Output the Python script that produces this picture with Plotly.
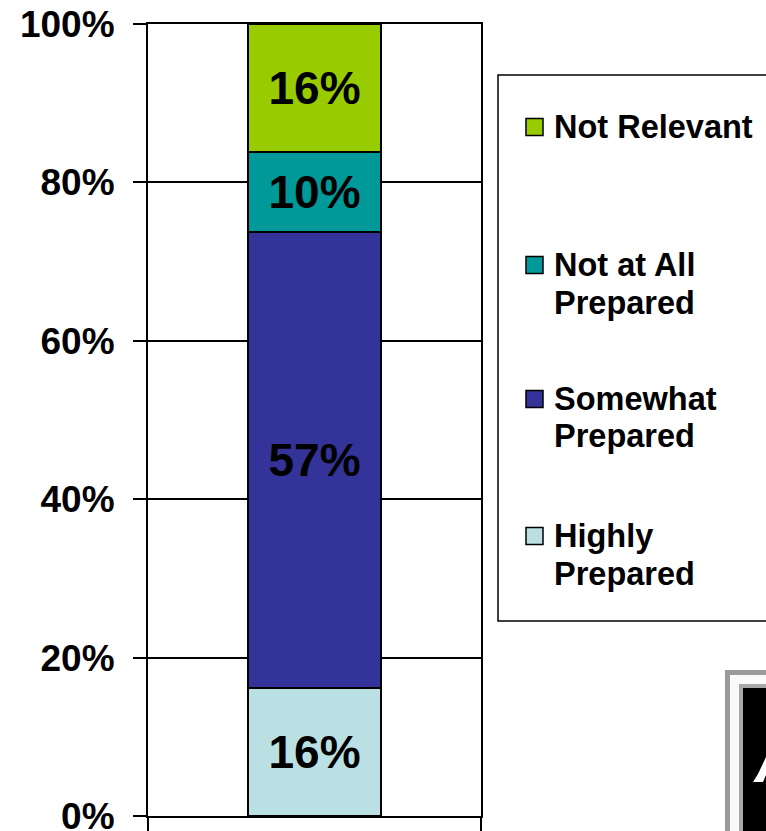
import plotly.graph_objects as go

# ---- data ----
categories = ["Preparedness"]
series_names = ["Highly Prepared", "Somewhat Prepared", "Not at All Prepared", "Not Relevant"]
legend_labels = ["Highly\nPrepared", "Somewhat\nPrepared", "Not at All\nPrepared", "Not Relevant"]
series_values = [16, 57, 10, 16]
series_colors = ["#BBE0E3", "#333399", "#009999", "#99CC00"]
y_tick_values = [0, 20, 40, 60, 80, 100]
y_tick_labels = ["0%", "20%", "40%", "60%", "80%", "100%"]

W, H = 766, 831
ML = 148
MT = 24
MB = H - 816
MR = W - 481
PW, PH = W - ML - MR, H - MT - MB

FONT = "Arial, Liberation Sans, sans-serif"


def px_x(x):
    return (x - ML) / PW


def px_y(y):
    return (H - MB - y) / PH


fig = go.Figure()
for name, val, col in zip(series_names, series_values, series_colors):
    fig.add_trace(go.Bar(
        x=categories, y=[val], name=name,
        marker=dict(color=col, line=dict(color="black", width=2)),
        text=[f"{val}%"], textposition="inside", insidetextanchor="middle",
        textangle=0, constraintext="none",
        textfont=dict(family=FONT, size=46, color="black", weight="bold"),
        showlegend=False, hoverinfo="name+text",
    ))

shapes = []
annotations = []

# legend box
shapes.append(dict(type="rect", xref="paper", yref="paper",
                   x0=px_x(498), x1=px_x(800), y0=px_y(621), y1=px_y(75),
                   line=dict(color="black", width=1.5), fillcolor="white", layer="above"))

# legend entries (top to bottom: reversed stack order)
first_line_centers = [127, 265, 399, 536]
line_gap = 37.5
for idx, (lab, col) in enumerate(zip(legend_labels[::-1], series_colors[::-1])):
    yc = first_line_centers[idx]
    shapes.append(dict(type="rect", xref="paper", yref="paper",
                       x0=px_x(526), x1=px_x(543), y0=px_y(yc + 8.5), y1=px_y(yc - 8.5),
                       line=dict(color="black", width=1.5), fillcolor=col, layer="above"))
    for li, line in enumerate(lab.split("\n")):
        annotations.append(dict(
            xref="paper", yref="paper", x=px_x(552), y=px_y(yc + li * line_gap),
            xanchor="left", yanchor="middle", showarrow=False, text=line,
            font=dict(family=FONT, size=32.5, color="black", weight="bold"),
        ))

# partial logo frame at bottom right
for (x0, y0, colr) in [(725, 670, "#9a9a9a"), (730, 675, "#fafafa"),
                       (739, 684, "#a8a8a8"), (743, 688, "black")]:
    shapes.append(dict(type="rect", xref="paper", yref="paper",
                       x0=px_x(x0), x1=px_x(800), y0=px_y(860), y1=px_y(y0),
                       line=dict(width=0), fillcolor=colr, layer="above"))
pts = [(753, 782), (763, 782), (766, 775), (766, 757), (758, 774)]
path = "M " + " L ".join(f"{px_x(x):.5f},{px_y(y):.5f}" for x, y in pts) + " Z"
shapes.append(dict(type="path", xref="paper", yref="paper", path=path,
                   line=dict(width=0), fillcolor="white", layer="above"))

fig.update_layout(
    width=W, height=H,
    margin=dict(l=ML, r=MR, t=MT, b=MB, pad=0, autoexpand=False),
    barmode="stack", barnorm="percent", bargap=0.6,
    paper_bgcolor="white", plot_bgcolor="white",
    showlegend=False,
    shapes=shapes, annotations=annotations,
    xaxis=dict(
        showticklabels=False, ticks="outside", tickson="boundaries",
        ticklen=16, tickwidth=2, tickcolor="black", automargin=False,
        showline=True, linecolor="black", linewidth=2, mirror=True,
        showgrid=False, zeroline=False, fixedrange=True,
    ),
    yaxis=dict(
        range=[0, 100], tickvals=y_tick_values, ticktext=y_tick_labels,
        ticks="outside", ticklen=13, tickwidth=2, tickcolor="black",
        ticklabelstandoff=11, automargin=False, ticklabeloverflow="allow",
        tickfont=dict(family=FONT, size=37, color="black", weight="bold"),
        showline=True, linecolor="black", linewidth=2, mirror=True,
        showgrid=True, gridcolor="black", gridwidth=2, zeroline=False,
        fixedrange=True,
    ),
)

fig.write_html(
    "out.html",
    config={"displayModeBar": False},
    post_script="document.body.style.margin='0';document.body.style.overflow='hidden';",
)
